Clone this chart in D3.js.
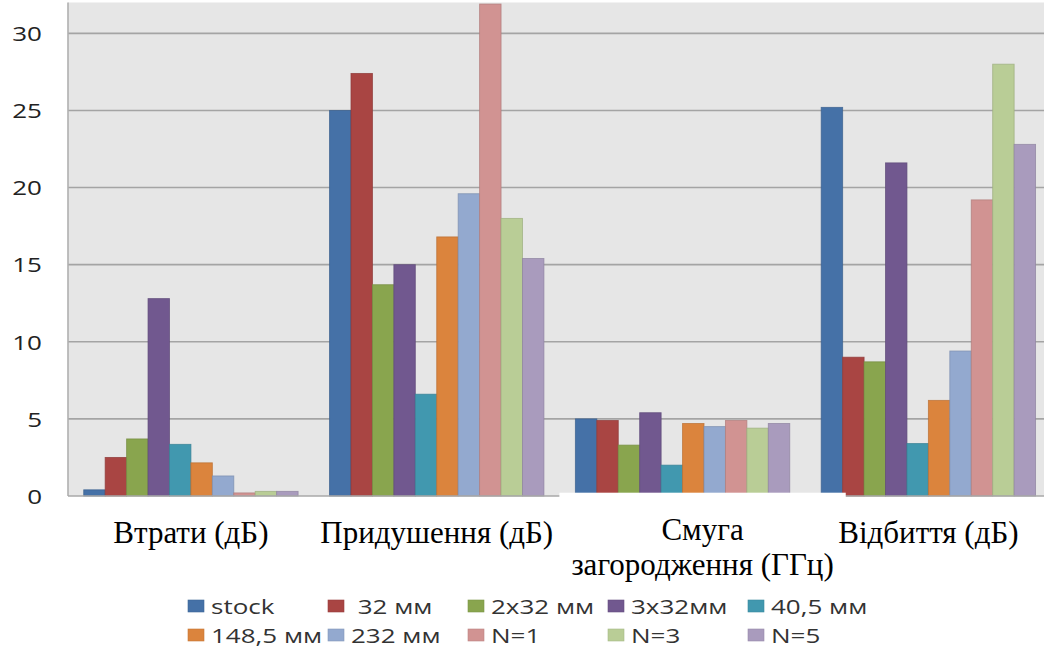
<!DOCTYPE html>
<html>
<head>
<meta charset="utf-8">
<script src="https://cdn.jsdelivr.net/npm/d3@7"></script>
<style>
  body { margin: 0; background: #ffffff; }
  svg { display: block; }
</style>
</head>
<body>
<svg id="chart" width="1044" height="666"></svg>
<script>
// Parameter groups (x categories); "\n" marks a line break in the label
const categories = ["Втрати (дБ)", "Придушення (дБ)", "Смуга\nзагородження (ГГц)", "Відбиття (дБ)"];

// Filter variants (legend order)
const seriesNames = ["stock", " 32 мм", "2x32 мм", "3x32мм", "40,5 мм", "148,5 мм", "232 мм", "N=1", "N=3", "N=5"];

// Values per variant, one entry per category
const stock   = [0.4, 25.0, 5.0, 25.2];
const mm32    = [2.5, 27.4, 4.9, 9.0];
const mm2x32  = [3.7, 13.7, 3.3, 8.7];
const mm3x32  = [12.8, 15.0, 5.4, 21.6];
const mm40_5  = [3.35, 6.6, 2.0, 3.4];
const mm148_5 = [2.15, 16.8, 4.7, 6.2];
const mm232   = [1.3, 19.6, 4.5, 9.4];
const n1      = [0.2, 31.9, 4.9, 19.2];
const n3      = [0.3, 18.0, 4.4, 28.0];
const n5      = [0.3, 15.4, 4.7, 22.8];

const yTicks = [0, 5, 10, 15, 20, 25, 30];

const seriesValues = [stock, mm32, mm2x32, mm3x32, mm40_5, mm148_5, mm232, n1, n3, n5];
const colors = ["#4571a7", "#a94543", "#89a54e", "#71588f", "#4198af",
                "#db843d", "#93a9cf", "#d19392", "#b9cd96", "#a99bbd"];

const svg = d3.select("#chart");
const W = 1044, H = 666;

// Plot frame (the right part runs past the visible edge)
const plot = { left: 68, top: 2.5, right: 1051.3, bottom: 496 };

const x = d3.scaleBand()
  .domain(categories)
  .range([plot.left, plot.right])
  .paddingInner(0.128)
  .paddingOuter(0.064);

const xInner = d3.scaleBand()
  .domain(seriesNames)
  .range([0, x.bandwidth()])
  .padding(0);

const y = d3.scaleLinear()
  .domain([0, 32])
  .range([plot.bottom, plot.top]);

const color = d3.scaleOrdinal().domain(seriesNames).range(colors);

// Plot background
svg.append("rect")
  .attr("x", plot.left).attr("y", plot.top)
  .attr("width", W - plot.left).attr("height", plot.bottom - plot.top)
  .attr("fill", "#e6e6e6");

// Horizontal gridlines
svg.append("g")
  .selectAll("line")
  .data(yTicks.filter(d => d > 0))
  .join("line")
  .attr("x1", plot.left).attr("x2", W)
  .attr("y1", d => y(d)).attr("y2", d => y(d))
  .attr("stroke", "#a4a4a4")
  .attr("stroke-width", 1.6);

// Bars
const rows = [];
categories.forEach((c, ci) => {
  seriesNames.forEach((s, si) => rows.push({ cat: c, series: s, value: seriesValues[si][ci] }));
});

svg.append("g")
  .selectAll("rect")
  .data(rows)
  .join("rect")
  .attr("x", d => x(d.cat) + xInner(d.series))
  .attr("y", d => y(d.value))
  .attr("width", xInner.bandwidth())
  .attr("height", d => y(0) - y(d.value))
  .attr("fill", d => color(d.series))
  .attr("stroke", d => d3.color(color(d.series)).darker(0.45))
  .attr("stroke-width", 0.9)
  .attr("stroke-opacity", 0.8);

// Axis lines
svg.append("line")
  .attr("x1", plot.left).attr("x2", plot.left)
  .attr("y1", plot.top).attr("y2", plot.bottom)
  .attr("stroke", "#b0b0b0").attr("stroke-width", 1.6);
svg.append("line")
  .attr("x1", plot.left).attr("x2", W)
  .attr("y1", plot.bottom).attr("y2", plot.bottom)
  .attr("stroke", "#a8a8a8").attr("stroke-width", 1.6);

// Y tick labels (chart text is stretched horizontally)
const sx = 1.3;
svg.append("g")
  .selectAll("text")
  .data(yTicks)
  .join("text")
  .attr("transform", d => `translate(42,${y(d)}) scale(${sx},1)`)
  .attr("text-anchor", "end")
  .attr("dominant-baseline", "central")
  .attr("font-family", "'Open Sans', sans-serif")
  .attr("font-size", 20)
  .attr("fill", "#222")
  .text(d => d);

// White text box behind the two-line category label
const boxCat = categories[2];
const boxX = x(boxCat) - 16, boxW = x.bandwidth() + 72;
svg.append("rect")
  .attr("x", boxX)
  .attr("y", plot.bottom - 3.3)
  .attr("width", boxW)
  .attr("height", 92)
  .attr("fill", "#ffffff");

// Category labels (each line is its own text element)
const catG = svg.append("g")
  .attr("font-family", "'Liberation Serif', 'Times New Roman', serif")
  .attr("font-size", 31)
  .attr("fill", "#000");

categories.forEach(c => {
  const lines = c.split("\n");
  const cx = lines.length > 1 ? boxX + boxW / 2 : x(c) + x.bandwidth() / 2;
  lines.forEach((ln, li) => {
    catG.append("text")
      .attr("text-anchor", "middle")
      .attr("x", cx)
      .attr("y", lines.length > 1 ? 540 + li * 35 : 543)
      .text(ln);
  });
});

// Legend: two rows of five equal columns
const legendLeft = 188, legendColW = 140;
const legendRows = [606, 635];
const legend = svg.append("g")
  .attr("font-family", "'Open Sans', sans-serif")
  .attr("font-size", 20)
  .attr("fill", "#333");

seriesNames.forEach((s, i) => {
  const cx = legendLeft + (i % 5) * legendColW;
  const cy = legendRows[Math.floor(i / 5)];
  legend.append("rect")
    .attr("x", cx).attr("y", cy - 6)
    .attr("width", 16).attr("height", 12)
    .attr("fill", color(s))
    .attr("stroke", d3.color(color(s)).darker(0.3))
    .attr("stroke-width", 0.6);
  legend.append("text")
    .attr("transform", `translate(${cx + 23},${cy}) scale(${sx},1)`)
    .attr("dominant-baseline", "central")
    .attr("xml:space", "preserve")
    .style("white-space", "pre")
    .text(s);
});
</script>
</body>
</html>
